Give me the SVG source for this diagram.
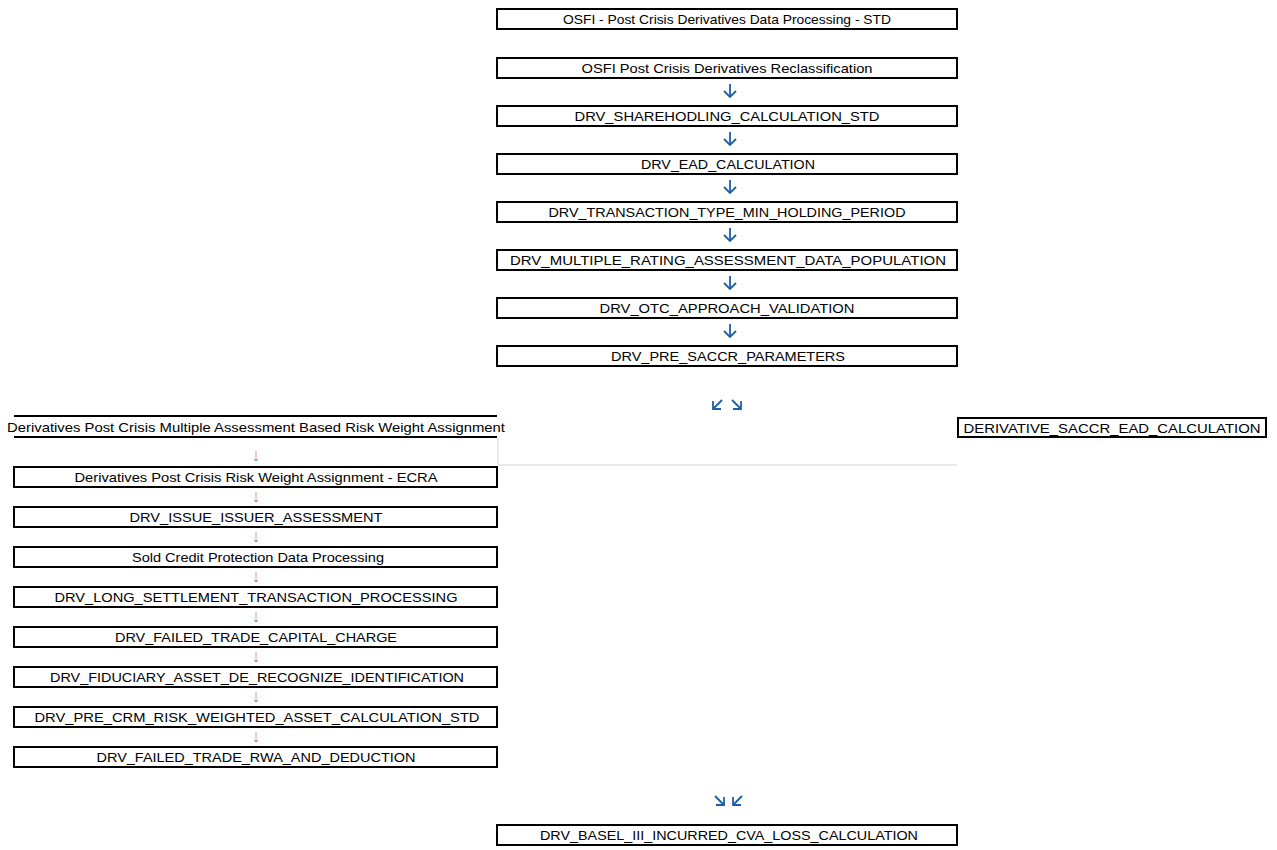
<svg xmlns="http://www.w3.org/2000/svg" width="1277" height="850" viewBox="0 0 1277 850">
<defs>
<style>
.box{fill:#fff;stroke:#000;stroke-width:2}
.t{font-family:"Liberation Sans",Arial,sans-serif;font-size:13px;fill:#000;text-anchor:middle;dominant-baseline:central}
.ar{fill:none;stroke:#1f5fa8;stroke-width:1.8}
.pk{fill:none;stroke:#d49a9a;stroke-width:1}
.pkh{fill:none;stroke:#6a8fc0;stroke-width:1}
.gl{fill:none;stroke:#d4d4d4;stroke-width:1}
</style>
</defs>
<rect width="1277" height="850" fill="#fff"/>
<g id="connectors">
<path class="gl" d="M498,438 V465 H957"/>
<path class="ar" d="M730,84 V97 M724,91 L730,97 L736,91"/>
<path class="ar" d="M730,132 V145 M724,139 L730,145 L736,139"/>
<path class="ar" d="M730,180 V193 M724,187 L730,193 L736,187"/>
<path class="ar" d="M730,228 V241 M724,235 L730,241 L736,235"/>
<path class="ar" d="M730,276 V289 M724,283 L730,289 L736,283"/>
<path class="ar" d="M730,324 V337 M724,331 L730,337 L736,331"/>
<path class="ar" d="M722,400 L713,409 M713,401 V409 H721"/>
<path class="ar" d="M732,400 L741,409 M741,401 V409 H733"/>
<path class="ar" d="M715,796 L724,805 M724,797 V805 H716"/>
<path class="ar" d="M742,796 L733,805 M733,797 V805 H741"/>
<g id="small-arrows">
<path class="pk" d="M256,451 V461"/><path class="pkh" d="M254,459 L256,461 L258,459"/>
<path class="pk" d="M256,492 V502"/><path class="pkh" d="M254,500 L256,502 L258,500"/>
<path class="pk" d="M256,532 V542"/><path class="pkh" d="M254,540 L256,542 L258,540"/>
<path class="pk" d="M256,572 V582"/><path class="pkh" d="M254,580 L256,582 L258,580"/>
<path class="pk" d="M256,612 V622"/><path class="pkh" d="M254,620 L256,622 L258,620"/>
<path class="pk" d="M256,652 V662"/><path class="pkh" d="M254,660 L256,662 L258,660"/>
<path class="pk" d="M256,692 V702"/><path class="pkh" d="M254,700 L256,702 L258,700"/>
<path class="pk" d="M256,732 V742"/><path class="pkh" d="M254,740 L256,742 L258,740"/>
</g>
</g>
<g id="n1"><rect class="box" x="497" y="9" width="460" height="20"/><text class="t" x="727" y="19" textLength="328" lengthAdjust="spacingAndGlyphs">OSFI - Post Crisis Derivatives Data Processing - STD</text></g>
<g id="n2"><rect class="box" x="497" y="58" width="460" height="20"/><text class="t" x="727" y="68" textLength="291" lengthAdjust="spacingAndGlyphs">OSFI Post Crisis Derivatives Reclassification</text></g>
<g id="n3"><rect class="box" x="497" y="106" width="460" height="20"/><text class="t" x="727" y="116" textLength="305" lengthAdjust="spacingAndGlyphs">DRV_SHAREHODLING_CALCULATION_STD</text></g>
<g id="n4"><rect class="box" x="497" y="154" width="460" height="20"/><text class="t" x="728" y="164" textLength="174" lengthAdjust="spacingAndGlyphs">DRV_EAD_CALCULATION</text></g>
<g id="n5"><rect class="box" x="497" y="202" width="460" height="20"/><text class="t" x="727" y="212" textLength="357" lengthAdjust="spacingAndGlyphs">DRV_TRANSACTION_TYPE_MIN_HOLDING_PERIOD</text></g>
<g id="n6"><rect class="box" x="497" y="250" width="460" height="20"/><text class="t" x="728" y="260" textLength="436" lengthAdjust="spacingAndGlyphs">DRV_MULTIPLE_RATING_ASSESSMENT_DATA_POPULATION</text></g>
<g id="n7"><rect class="box" x="497" y="298" width="460" height="20"/><text class="t" x="727" y="308" textLength="255" lengthAdjust="spacingAndGlyphs">DRV_OTC_APPROACH_VALIDATION</text></g>
<g id="n8"><rect class="box" x="497" y="346" width="460" height="20"/><text class="t" x="728" y="356" textLength="234" lengthAdjust="spacingAndGlyphs">DRV_PRE_SACCR_PARAMETERS</text></g>
<g id="n9"><path d="M14,416 H497 M14,437 H497" stroke="#000" stroke-width="2"/><text class="t" x="256" y="427" textLength="498" lengthAdjust="spacingAndGlyphs">Derivatives Post Crisis Multiple Assessment Based Risk Weight Assignment</text></g>
<g id="n10"><rect class="box" x="958" y="418" width="308" height="19"/><text class="t" x="1112" y="428" textLength="297" lengthAdjust="spacingAndGlyphs">DERIVATIVE_SACCR_EAD_CALCULATION</text></g>
<g id="n11"><rect class="box" x="14" y="467" width="483" height="20"/><text class="t" x="256" y="477" textLength="363" lengthAdjust="spacingAndGlyphs">Derivatives Post Crisis Risk Weight Assignment - ECRA</text></g>
<g id="n12"><rect class="box" x="14" y="507" width="483" height="20"/><text class="t" x="256" y="517" textLength="253" lengthAdjust="spacingAndGlyphs">DRV_ISSUE_ISSUER_ASSESSMENT</text></g>
<g id="n13"><rect class="box" x="14" y="547" width="483" height="20"/><text class="t" x="258" y="557" textLength="252" lengthAdjust="spacingAndGlyphs">Sold Credit Protection Data Processing</text></g>
<g id="n14"><rect class="box" x="14" y="587" width="483" height="20"/><text class="t" x="256" y="597" textLength="403" lengthAdjust="spacingAndGlyphs">DRV_LONG_SETTLEMENT_TRANSACTION_PROCESSING</text></g>
<g id="n15"><rect class="box" x="14" y="627" width="483" height="20"/><text class="t" x="256" y="637" textLength="282" lengthAdjust="spacingAndGlyphs">DRV_FAILED_TRADE_CAPITAL_CHARGE</text></g>
<g id="n16"><rect class="box" x="14" y="667" width="483" height="20"/><text class="t" x="257" y="677" textLength="414" lengthAdjust="spacingAndGlyphs">DRV_FIDUCIARY_ASSET_DE_RECOGNIZE_IDENTIFICATION</text></g>
<g id="n17"><rect class="box" x="14" y="707" width="483" height="20"/><text class="t" x="257" y="717" textLength="445" lengthAdjust="spacingAndGlyphs">DRV_PRE_CRM_RISK_WEIGHTED_ASSET_CALCULATION_STD</text></g>
<g id="n18"><rect class="box" x="14" y="747" width="483" height="20"/><text class="t" x="256" y="757" textLength="319" lengthAdjust="spacingAndGlyphs">DRV_FAILED_TRADE_RWA_AND_DEDUCTION</text></g>
<g id="n19"><rect class="box" x="497" y="825" width="460" height="20"/><text class="t" x="729" y="835" textLength="378" lengthAdjust="spacingAndGlyphs">DRV_BASEL_III_INCURRED_CVA_LOSS_CALCULATION</text></g>
</svg>
